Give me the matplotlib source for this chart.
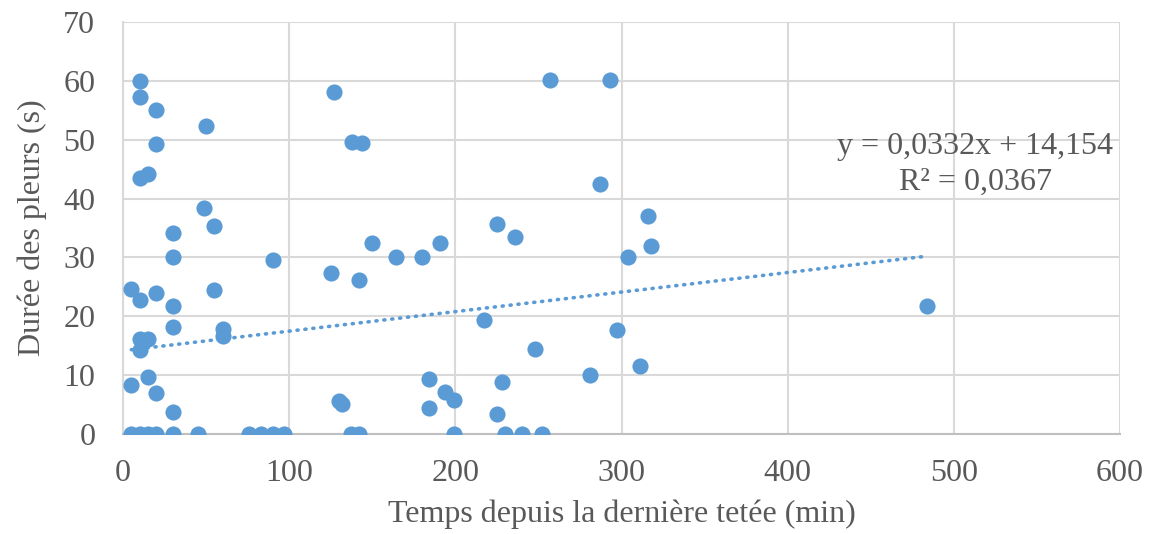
import numpy as np
import matplotlib
matplotlib.use("Agg")
import matplotlib.pyplot as plt

plt.rcParams['font.family'] = ['Liberation Serif', 'DejaVu Serif']

# temps depuis la derniere tetee (min) / duree des pleurs (s)
temps = [5, 10, 15, 20, 30, 45, 76, 83, 90, 97, 137, 142, 199, 230, 240, 252,
         10, 10, 20, 50, 20, 10, 15, 49, 55, 30, 30, 90, 5, 10, 20, 55, 30, 30,
         60, 60, 10, 15, 10, 5, 15, 20, 30,
         127, 138, 144, 257, 150, 164, 180, 191, 125, 142, 225, 236, 217, 248,
         184, 228, 130, 132, 194, 199, 184, 225,
         293, 287, 316, 318, 304, 484, 297, 311, 281]
pleurs = [0, 0, 0, 0, 0, 0, 0, 0, 0, 0, 0, 0, 0, 0, 0, 0,
          60, 57.3, 55.1, 52.4, 49.3, 43.5, 44.2, 38.4, 35.3, 34.1, 30.0, 29.6,
          24.6, 22.8, 24.0, 24.4, 21.8, 18.2, 17.9, 16.6, 16.1, 16.1, 14.3,
          8.4, 9.7, 6.9, 3.7,
          58.1, 49.6, 49.5, 60.1, 32.5, 30.0, 30.0, 32.4, 27.4, 26.2, 35.7, 33.5,
          19.3, 14.5, 9.3, 8.8, 5.6, 5.1, 7.1, 5.8, 4.4, 3.4,
          60.1, 42.4, 37.1, 32.0, 30.1, 21.8, 17.7, 11.6, 10.1]

# courbe de tendance lineaire (Excel)
pente = 0.0332
origine = 14.154
r2 = 0.0367

bleu = '#5b9bd5'
gris = '#595959'

def virgule(v, n):
    return '{:.{}f}'.format(v, n).replace('.', ',')

fig = plt.figure(figsize=(11.51, 5.34), dpi=100)
ax = fig.add_axes([0.1069, 0.1873, 0.8662, 0.7715])

ax.scatter(temps, pleurs, s=135, color=bleu, zorder=3, linewidths=0)

xt = np.array([min(temps), max(temps)])
ax.plot(xt, pente * xt + origine, color=bleu, lw=2.6, linestyle=(0, (0.3, 1.9)),
        dash_capstyle='round', zorder=2)

eq = 'y = ' + virgule(pente, 4) + 'x + ' + virgule(origine, 3) + '\nR² = ' + virgule(r2, 4)
ax.text(0.855, 0.654, eq, transform=ax.transAxes, ha='center', va='center',
        multialignment='center', fontsize=23, color=gris, linespacing=1.32)

ax.set_xlim(0, 600)
ax.set_ylim(0, 70)
ax.set_xticks(range(0, 601, 100))
ax.set_yticks(range(0, 71, 10))
ax.grid(True, color='#d9d9d9', lw=1.5)
ax.set_axisbelow(True)
for s in ['top', 'right']:
    ax.spines[s].set_visible(False)
ax.spines['left'].set_color('#d9d9d9')
ax.spines['left'].set_linewidth(1.5)
ax.spines['bottom'].set_color('#bfbfbf')
ax.spines['bottom'].set_linewidth(1.5)
ax.tick_params(axis='x', length=0, labelsize=23, colors=gris, pad=18)
ax.tick_params(axis='y', length=0, labelsize=23, colors=gris, pad=20)

ax.set_xlabel('Temps depuis la dernière tetée (min)', fontsize=23, color=gris, labelpad=8)
ax.set_ylabel('Durée des pleurs (s)', fontsize=23, color=gris, labelpad=12)

fig.savefig('out.png', dpi=100)
